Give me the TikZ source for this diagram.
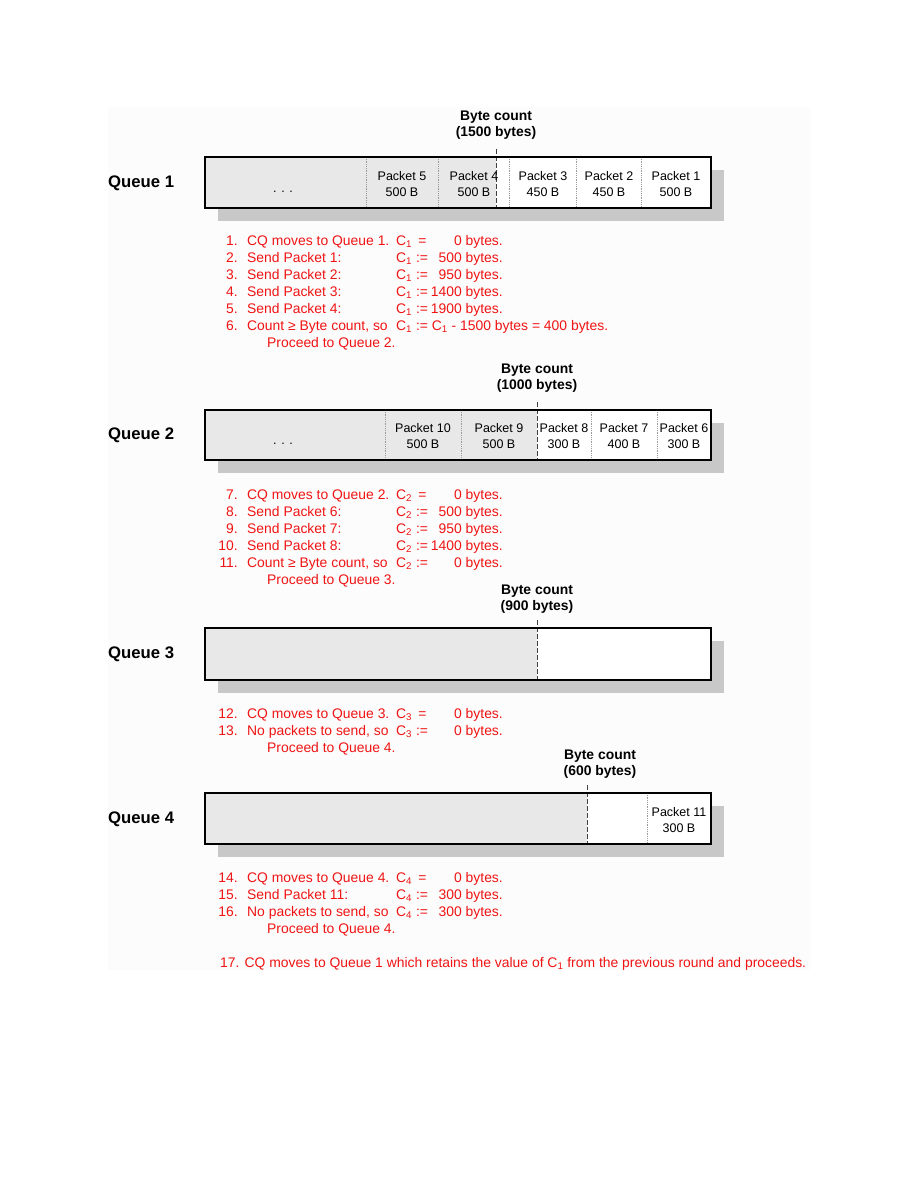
\documentclass[tikz,border=0pt]{standalone}
\usepackage{fontspec}
\setmainfont{Liberation Sans}
\definecolor{bgc}{HTML}{FCFCFC}
\definecolor{shd}{HTML}{C8C8C8}
\definecolor{qfill}{HTML}{E8E8E8}
\definecolor{divc}{HTML}{9A9A9A}
\definecolor{redt}{HTML}{F01414}
\newcommand\stepline[6]{%
  \node[rt, anchor=base east] (#1n) at (238,#2) {#3};
  \node[rt, anchor=base west] (#1t) at (247,#2) {#4};
  \node[rt, anchor=base west] (#1c) at (396,#2) {#5};
  \node[rt, anchor=base east] (#1v) at (503,#2) {#6};}
\newcommand\Cs[1]{C\textsubscript{#1}}
\begin{document}
\begin{tikzpicture}[x=1pt,y=-1pt,
  rt/.style={inner sep=0pt, text=redt, font=\fontsize{13.9}{17}\selectfont},
  pk/.style={inner sep=0pt, align=center, font=\fontsize{12.5}{16}\selectfont},
  bc/.style={inner sep=0pt, align=center, font=\bfseries\fontsize{13.9}{16}\selectfont},
  ql/.style={inner sep=0pt, anchor=west, font=\bfseries\fontsize{16.7}{18}\selectfont},
  divider/.style={divc, densely dotted, line width=0.8pt},
  bcline/.style={black!75, line width=1pt, dash pattern=on 5pt off 2pt},
  qborder/.style={draw=black, line width=1.4pt},
  shadowbox/.style={fill=shd},
  dots/.style={inner sep=0pt, anchor=base, font=\fontsize{12.5}{16}\selectfont},
]
\useasboundingbox (0,0) rectangle (918,1188);
\fill[bgc] (108,107) rectangle (810,970);

% ---------- Queue 1 ----------
\fill[shadowbox] (218,170) rectangle (724,221);
\fill[white] (205,157) rectangle (711,208);
\fill[qfill] (205,157) rectangle (496,208);
\foreach \x in {366,438,509,576,641} \draw[divider] (\x,157) -- (\x,208);
\draw[bcline] (496,149) -- (496,208);
\draw[qborder] (205,157) rectangle (711,208);
\node[ql] (q1) at (108,183) {Queue 1};
\node[bc] (bc1) at (496,125) {Byte count\\(1500 bytes)};
\node[dots] (d1) at (283,192) {. . .};
\node[pk] (p5) at (402,184) {Packet 5\\500 B};
\node[pk] (p4) at (474,184) {Packet 4\\500 B};
\node[pk] (p3) at (543,184) {Packet 3\\450 B};
\node[pk] (p2) at (609,184) {Packet 2\\450 B};
\node[pk] (p1) at (676,184) {Packet 1\\500 B};

\stepline{s1}{245}{1.}{CQ moves to Queue 1.}{\Cs{1}\ \,=}{0 bytes.}
\stepline{s2}{262}{2.}{Send Packet 1:}{\Cs{1} :=}{500 bytes.}
\stepline{s3}{279}{3.}{Send Packet 2:}{\Cs{1} :=}{950 bytes.}
\stepline{s4}{296}{4.}{Send Packet 3:}{\Cs{1} :=}{1400 bytes.}
\stepline{s5}{313}{5.}{Send Packet 4:}{\Cs{1} :=}{1900 bytes.}
\stepline{s6}{330}{6.}{Count ≥ Byte count, so}{\Cs{1} := \Cs{1} - 1500 bytes = 400 bytes.}{}
\node[rt, anchor=base west] (pr1) at (267,347) {Proceed to Queue 2.};

% ---------- Queue 2 ----------
\fill[shadowbox] (218,423) rectangle (724,473);
\fill[white] (205,410) rectangle (711,460);
\fill[qfill] (205,410) rectangle (537,460);
\foreach \x in {385,461,591,657} \draw[divider] (\x,410) -- (\x,460);
\draw[bcline] (537,402) -- (537,460);
\draw[qborder] (205,410) rectangle (711,460);
\node[ql] (q2) at (108,435) {Queue 2};
\node[bc] (bc2) at (537,378) {Byte count\\(1000 bytes)};
\node[dots] (d2) at (283,444) {. . .};
\node[pk] (p10) at (423,436) {Packet 10\\500 B};
\node[pk] (p9) at (499,436) {Packet 9\\500 B};
\node[pk] (p8) at (564,436) {Packet 8\\300 B};
\node[pk] (p7) at (624,436) {Packet 7\\400 B};
\node[pk] (p6) at (684,436) {Packet 6\\300 B};

\stepline{s7}{499}{7.}{CQ moves to Queue 2.}{\Cs{2}\ \,=}{0 bytes.}
\stepline{s8}{516}{8.}{Send Packet 6:}{\Cs{2} :=}{500 bytes.}
\stepline{s9}{533}{9.}{Send Packet 7:}{\Cs{2} :=}{950 bytes.}
\stepline{s10}{550}{10.}{Send Packet 8:}{\Cs{2} :=}{1400 bytes.}
\stepline{s11}{567}{11.}{Count ≥ Byte count, so}{\Cs{2} :=}{0 bytes.}
\node[rt, anchor=base west] (pr2) at (267,584) {Proceed to Queue 3.};

% ---------- Queue 3 ----------
\fill[shadowbox] (218,641) rectangle (724,693);
\fill[white] (205,628) rectangle (711,680);
\fill[qfill] (205,628) rectangle (537,680);
\draw[bcline] (537,620) -- (537,680);
\draw[qborder] (205,628) rectangle (711,680);
\node[ql] (q3) at (108,654) {Queue 3};
\node[bc] (bc3) at (537,599) {Byte count\\(900 bytes)};

\stepline{s12}{718}{12.}{CQ moves to Queue 3.}{\Cs{3}\ \,=}{0 bytes.}
\stepline{s13}{735}{13.}{No packets to send, so}{\Cs{3} :=}{0 bytes.}
\node[rt, anchor=base west] (pr3) at (267,752) {Proceed to Queue 4.};

% ---------- Queue 4 ----------
\fill[shadowbox] (218,806) rectangle (724,857);
\fill[white] (205,793) rectangle (711,844);
\fill[qfill] (205,793) rectangle (587,844);
\draw[divider] (647,793) -- (647,844);
\draw[bcline] (587,785) -- (587,844);
\draw[qborder] (205,793) rectangle (711,844);
\node[ql] (q4) at (108,819) {Queue 4};
\node[bc] (bc4) at (600,764) {Byte count\\(600 bytes)};
\node[pk] (p11) at (679,820) {Packet 11\\300 B};

\stepline{s14}{882}{14.}{CQ moves to Queue 4.}{\Cs{4}\ \,=}{0 bytes.}
\stepline{s15}{899}{15.}{Send Packet 11:}{\Cs{4} :=}{300 bytes.}
\stepline{s16}{916}{16.}{No packets to send, so}{\Cs{4} :=}{300 bytes.}
\node[rt, anchor=base west] (pr4) at (267,933) {Proceed to Queue 4.};
\node[rt, anchor=base west] (s17) at (220,967) {17. CQ moves to Queue 1 which retains the value of \Cs{1} from the previous round and proceeds.};
\end{tikzpicture}
\end{document}
